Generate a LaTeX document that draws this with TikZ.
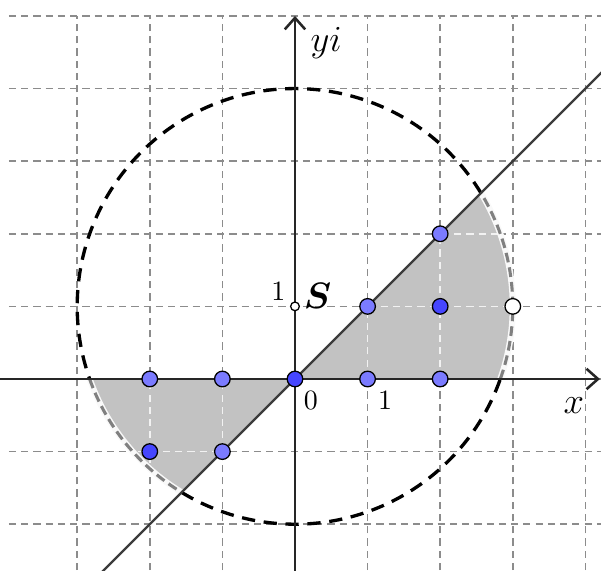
\documentclass[tikz,border=0pt]{standalone}
\usepackage{bm}
\usetikzlibrary{arrows.meta}
\definecolor{ptlight}{HTML}{7B7BFF}
\definecolor{ptdark}{HTML}{4646FF}
\definecolor{regfill}{HTML}{C2C2C2}
\definecolor{linegray}{HTML}{3C3C3C}
\definecolor{gridgray}{HTML}{8C8C8C}
\begin{document}
\begin{tikzpicture}[x=1cm,y=1cm,
  gridline/.style={gridgray, line width=0.65pt, dash pattern=on 2.8pt off 2pt},
  innergrid/.style={white!90!gray, line width=0.65pt, dash pattern=on 2.8pt off 2pt},
  circdash/.style={black, line width=1.3pt, dash pattern=on 5.2pt off 3.4pt},
  arcback/.style={white!95!gray, line width=2.4pt},
  arcdash/.style={gray, line width=1.2pt, dash pattern=on 3.8pt off 2pt},
  axisline/.style={black!85, line width=1pt, -{Straight Barb[length=4.5pt,width=8pt]}},
  pt/.style={circle, draw=black, line width=0.5pt, inner sep=0pt, minimum size=2.15mm},
  lbl/.style={inner sep=0pt}]
\useasboundingbox (-4.063,-2.631) rectangle (4.215,5.220);
\clip (-4.063,-2.631) rectangle (4.215,5.220);
% grid
\foreach \y in {-2,...,5} \draw[gridline] (-3.94,\y) -- (4.215,\y);
\foreach \x in {-3,...,4} \draw[gridline] (\x,-2.631) -- (\x,5);
% shaded regions
\fill[regfill] (0,0) -- (2.8284,0) arc[start angle=-19.47, end angle=31.37, radius=3] -- cycle;
\fill[regfill] (0,0) -- (-2.8284,0) arc[start angle=199.47, end angle=238.63, radius=3] -- cycle;
\begin{scope}
\clip (0,0) -- (2.8284,0) arc[start angle=-19.47, end angle=31.37, radius=3] -- cycle;
\foreach \y in {1,2} \draw[innergrid] (0,\y) -- (3,\y);
\foreach \x in {1,2} \draw[innergrid] (\x,0) -- (\x,3);
\end{scope}
\begin{scope}
\clip (0,0) -- (-2.8284,0) arc[start angle=199.47, end angle=238.63, radius=3] -- cycle;
\foreach \y in {-1} \draw[innergrid] (-3,\y) -- (0,\y);
\foreach \x in {-1,-2} \draw[innergrid] (\x,-2) -- (\x,0);
\end{scope}
% circle
\draw[arcback] (2.8284,0) arc[start angle=-19.47, end angle=31.37, radius=3];
\draw[arcdash] (2.8284,0) arc[start angle=-19.47, end angle=31.37, radius=3];
\draw[arcback] (-2.8284,0) arc[start angle=199.47, end angle=238.63, radius=3];
\draw[arcdash] (-2.8284,0) arc[start angle=199.47, end angle=238.63, radius=3];
\draw[circdash] (2.5616,2.5616) arc[start angle=31.37, end angle=199.47, radius=3];
\draw[circdash] (-1.5616,-1.5616) arc[start angle=238.63, end angle=340.53, radius=3];
% line y = x
\coordinate (l1) at (-2.7,-2.7);
\coordinate (l2) at (4.3,4.3);
\draw[linegray, line width=0.9pt] (l1) -- (l2);
% axes
\coordinate (xl) at (-4.1,0);
\coordinate (xr) at (4.2,0);
\coordinate (yb) at (0,-2.7);
\coordinate (yt) at (0,5.0);
\draw[axisline] (xl) -- (xr);
\draw[axisline] (yb) -- (yt);
% points
\node[pt, fill=ptlight] (pm2) at (-2,0) {};
\node[pt, fill=ptlight] (pm1) at (-1,0) {};
\node[pt, fill=ptdark] (p0) at (0,0) {};
\node[pt, fill=ptlight] (p1) at (1,0) {};
\node[pt, fill=ptlight] (p2) at (2,0) {};
\node[pt, fill=ptlight] (p11) at (1,1) {};
\node[pt, fill=ptdark] (p21) at (2,1) {};
\node[pt, fill=ptlight] (p22) at (2,2) {};
\node[pt, fill=ptdark] (pm2m1) at (-2,-1) {};
\node[pt, fill=ptlight] (pm1m1) at (-1,-1) {};
\node[pt, fill=white] (p31) at (3,1) {};
\node[circle, draw=black, line width=0.5pt, fill=white, inner sep=0pt, minimum size=1.2mm] (S) at (0,1) {};
% labels
\node[lbl, font=\fontsize{15}{15}\selectfont] (ylab) at (0.43,4.63) {$yi$};
\node[lbl, font=\fontsize{15}{15}\selectfont] (xlab) at (3.84,-0.37) {$x$};
\node[lbl, font=\fontsize{11}{11}\selectfont] (zero) at (0.22,-0.29) {$0$};
\node[lbl, font=\fontsize{11}{11}\selectfont] (one) at (1.24,-0.29) {$1$};
\node[lbl, font=\fontsize{11}{11}\selectfont] (oney) at (-0.23,1.2) {$1$};
\node[lbl, font=\fontsize{14}{14}\selectfont] (Slab) at (0.31,1.15) {$\bm{S}$};
\end{tikzpicture}
\end{document}
